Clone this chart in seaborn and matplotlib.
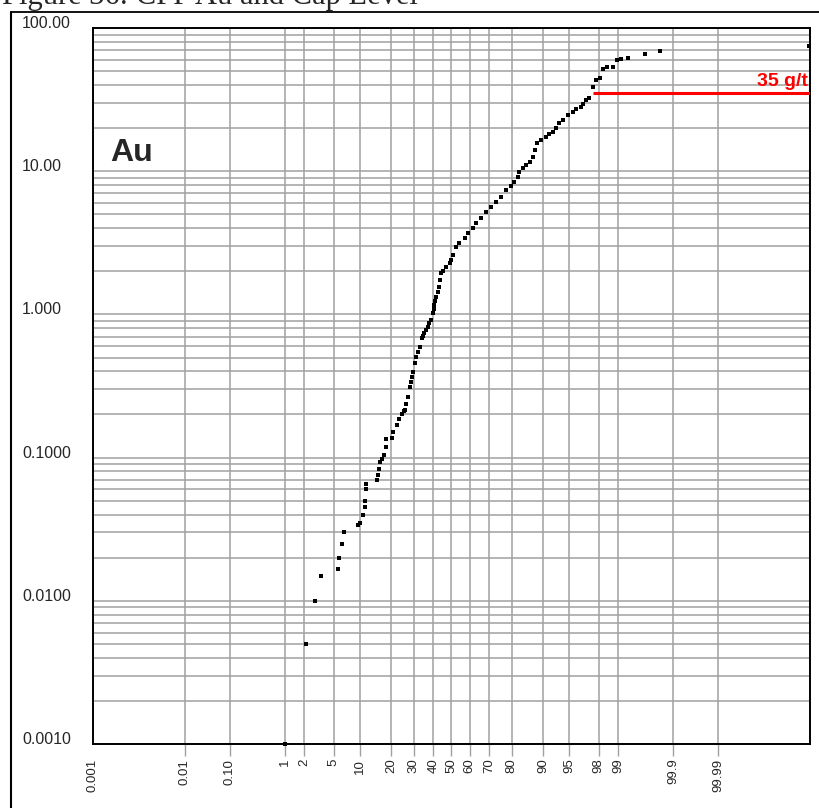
import numpy as np
import matplotlib
matplotlib.use("Agg")
import matplotlib.pyplot as plt
from matplotlib.lines import Line2D
from matplotlib.ticker import NullLocator, LogLocator
import seaborn as sns
from statistics import NormalDist

# cumulative probability (%) and Au grade (g/t)
prob = [1.0, 2.14, 2.89, 3.49, 5.7, 5.91, 6.25, 6.66, 9.73, 10.15, 10.8, 11.33,
        11.5, 11.6, 11.7, 15.0, 15.2, 15.5, 16.0, 16.5, 17.5, 17.9, 18.1, 20.3,
        20.7, 22.4, 23.3, 24.3, 25.2, 25.7, 26.1, 27.1, 28.2, 28.7, 28.9, 29.6,
        30.3, 31.1, 31.9, 32.8, 33.9, 34.6, 35.3, 36.2, 37.0, 37.9, 38.9, 39.7,
        40.2, 40.6, 41.1, 41.6, 42.3, 43.0, 43.7, 44.3, 45.2, 47.0, 48.9, 49.8,
        50.7, 52.6, 54.4, 57.2, 59.0, 61.7, 63.5, 66.1, 68.6, 71.0, 73.3, 75.6,
        77.7, 79.7, 81.0, 82.3, 82.8, 84.0, 85.1, 86.2, 87.2, 87.9, 88.3, 89.5,
        90.7, 91.4, 92.1, 92.8, 93.4, 94.0, 94.8, 95.5, 95.9, 96.5, 96.7, 97.0,
        97.2, 97.56, 97.8, 98.05, 98.26, 98.5, 98.79, 98.95, 99.08, 99.3,
        99.645, 99.814, 99.99997]
grade = [0.001, 0.005, 0.010, 0.015, 0.0167, 0.020, 0.025, 0.030, 0.034, 0.035,
         0.040, 0.045, 0.050, 0.060, 0.065, 0.070, 0.075, 0.083, 0.093, 0.098,
         0.104, 0.119, 0.134, 0.137, 0.152, 0.170, 0.185, 0.200, 0.210, 0.215,
         0.237, 0.266, 0.313, 0.339, 0.367, 0.396, 0.456, 0.507, 0.55, 0.595,
         0.681, 0.71, 0.738, 0.778, 0.820, 0.866, 0.914, 1.02, 1.09, 1.16, 1.24,
         1.33, 1.44, 1.56, 1.74, 1.94, 2.02, 2.14, 2.28, 2.40, 2.6, 2.97, 3.14,
         3.40, 3.68, 3.99, 4.33, 4.69, 5.21, 5.65, 6.12, 6.64, 7.39, 7.88, 8.45,
         9.16, 9.93, 10.5, 11.0, 11.6, 12.6, 14.1, 15.7, 16.5, 17.4, 18.1, 18.9,
         19.9, 21.6, 22.8, 24.7, 26.0, 27.0, 27.9, 29.5, 31.4, 32.3, 38.5, 43.4,
         45.0, 51.5, 53.2, 53.2, 59.8, 60.8, 61.5, 65.8, 69.4, 75.4]

xtick_pct = [0.01, 0.1, 1, 2, 5, 10, 20, 30, 40, 50, 60, 70, 80, 90, 95, 98, 99,
             99.9, 99.99]
xtick_text = ["0.01", "0.10", "1", "2", "5", "10", "20", "30", "40", "50", "60",
              "70", "80", "90", "95", "98", "99", "99.9", "99.99"]
ytick_vals = [0.001, 0.01, 0.1, 1, 10, 100]
ytick_text = ["0.0010", "0.0100", "0.1000", "1.000", "10.00", "100.00"]

cap_grade = 35
cap_from = 97.6

nd = NormalDist()


def fwd(p):
    p = np.clip(np.asarray(p, dtype=float) / 100.0, 1e-12, 1 - 1e-12)
    return np.vectorize(nd.inv_cdf, otypes=[float])(p)


def inv(z):
    return np.vectorize(nd.cdf, otypes=[float])(np.asarray(z, dtype=float)) * 100.0


sns.set_theme(style="white")
plt.rcParams["font.family"] = ["Liberation Sans", "DejaVu Sans"]

fig = plt.figure(figsize=(8.19, 8.08), dpi=100)
ax = fig.add_axes([93 / 819, 64 / 808, 717 / 819, 716 / 808])

grid_col = "#a0a0a0"
sns.scatterplot(x=prob, y=grade, marker="s", s=11, color="black", linewidth=0,
                ax=ax, clip_on=False, zorder=3)

ax.set_yscale("log")
ax.set_xscale("function", functions=(fwd, inv))
xlo, xhi = inv(-5.0), inv(5.0)
ax.set_xlim(xlo, xhi)
ax.set_ylim(0.001, 100)

# x axis: probability ticks, first label sits on the left edge
ax.set_xticks([float(xlo)] + xtick_pct, labels=["0.001"] + xtick_text)
ax.xaxis.set_minor_locator(NullLocator())
ax.tick_params(axis="x", which="major", length=8.6, width=1, color=grid_col,
               pad=2, labelsize=9.5, labelrotation=90, bottom=True)
ax.xaxis.get_major_ticks()[0].tick1line.set_visible(False)

ax.set_yticks(ytick_vals, labels=ytick_text)
ax.yaxis.set_minor_locator(LogLocator(base=10, subs=np.arange(2, 10)))
ax.tick_params(axis="y", which="both", length=0, pad=51, labelsize=11.5)
for lab in ax.get_yticklabels():
    lab.set_horizontalalignment("left")
    lab.set_verticalalignment("baseline")
ax.yaxis.set_tick_params(which="minor", labelleft=False)

ax.grid(which="major", axis="x", color=grid_col, lw=1.1)
ax.grid(which="both", axis="y", color=grid_col, lw=1.1)
ax.set_axisbelow(True)
for sp in ax.spines.values():
    sp.set_visible(True)
    sp.set_color("black")
    sp.set_linewidth(1.4)
ax.set_xlabel("")
ax.set_ylabel("")

# cap level
ax.hlines(cap_grade, cap_from, xhi, color="#ff0000", lw=2.2, zorder=4)
ax.annotate(f"{cap_grade} g/t", xy=(xhi, cap_grade), xytext=(-1.5, 5.5),
            textcoords="offset points", ha="right", va="baseline",
            color="#ff0000", fontsize=14, fontweight="bold")

ax.text(0.024, 0.814, "Au", transform=ax.transAxes, fontsize=23,
        fontweight="bold", va="baseline", ha="left")

# document frame and caption (cut by the page edge, as in the source)
fig.add_artist(Line2D([11 / 819, 11 / 819], [0, 1 - 12 / 808], color="black",
                      lw=1.5, transform=fig.transFigure))
fig.add_artist(Line2D([11 / 819, 1], [1 - 12 / 808, 1 - 12 / 808], color="black",
                      lw=1.3, transform=fig.transFigure))
fig.text(0.003, 1 - 4 / 808, "Figure 36: CPP Au and Cap Level",
         family=["Liberation Serif", "DejaVu Serif"], fontsize=22,
         va="baseline", ha="left")

fig.savefig("out.png", dpi=100)
